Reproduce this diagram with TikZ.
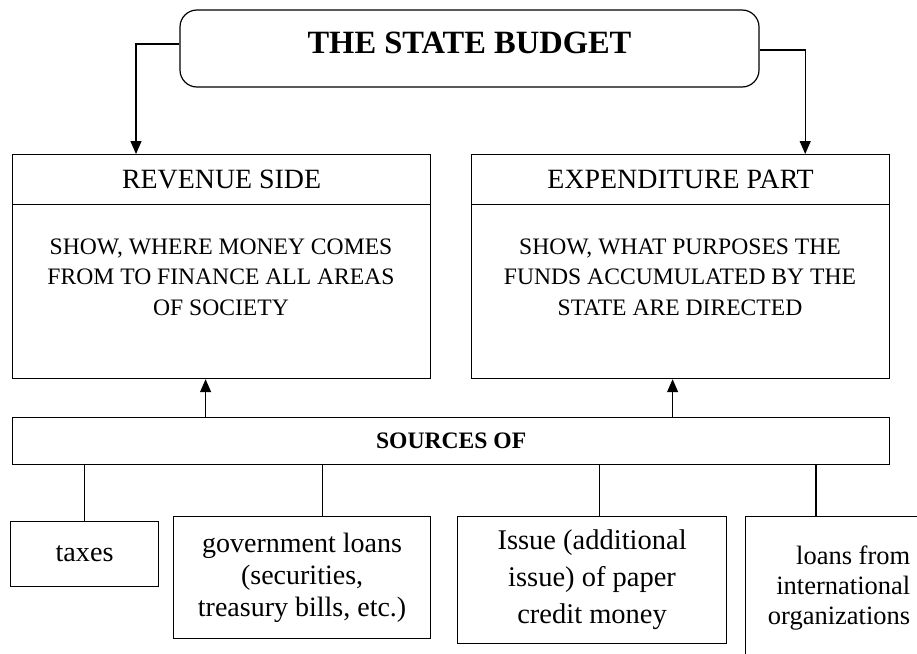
\documentclass[tikz,border=0pt]{standalone}
\usepackage{fontspec}
\setmainfont{Liberation Serif}
\usetikzlibrary{arrows.meta}
\begin{document}
\begin{tikzpicture}[x=1pt,y=-1pt,
  line width=1.2pt,
  box/.style={draw=black, line width=1.2pt, inner sep=0pt, anchor=north west, align=center},
  arr/.style={line width=1.2pt, -{Triangle[length=13pt,width=11pt]}},
  conn/.style={line width=1.2pt}]
\useasboundingbox (0,0) rectangle (917,653);
\clip (0,0) rectangle (917,653);
\fill[white] (0,0) rectangle (917,653);

% title
\node[draw=black, line width=1.2pt, rounded corners=17pt, inner sep=0pt,
      minimum width=579pt, minimum height=77pt, text depth=11.8pt,
      font=\fontsize{32.5}{36}\selectfont\bfseries] (title) at (469.5,48.5) {THE STATE BUDGET};

% revenue side
\node[box, minimum width=418pt, minimum height=50pt, font=\fontsize{27.9}{32}\selectfont] (revhead) at (12,154) {REVENUE SIDE};
\node[box, minimum width=418pt, minimum height=174pt] (revbody) at (12,204) {};
\node[inner sep=0pt, anchor=north, align=center, font=\fontsize{23.6}{30.5}\selectfont] (revtext) at (221,238)
  {SHOW, WHERE MONEY COMES\\FROM TO FINANCE ALL AREAS\\OF SOCIETY};

% expenditure part
\node[box, minimum width=418pt, minimum height=50pt, font=\fontsize{27.9}{32}\selectfont] (exphead) at (471,154) {EXPENDITURE PART};
\node[box, minimum width=418pt, minimum height=174pt] (expbody) at (471,204) {};
\node[inner sep=0pt, anchor=north, align=center, font=\fontsize{23.6}{30.5}\selectfont] (exptext) at (680,238)
  {SHOW, WHAT PURPOSES THE\\FUNDS ACCUMULATED BY THE\\STATE ARE DIRECTED};

% sources
\node[box, minimum width=877pt, minimum height=47pt, font=\fontsize{23.6}{28}\selectfont\bfseries] (sources) at (12,417) {SOURCES OF};

% bottom boxes
\node[box, minimum width=148pt, minimum height=65pt, font=\fontsize{28.2}{32}\selectfont] (taxes) at (10,521) {taxes};
\node[box, minimum width=257pt, minimum height=122pt, font=\fontsize{28}{32}\selectfont] (govt) at (173,516)
  {government loans\\(securities,\\treasury bills, etc.)};
\node[box, minimum width=269pt, minimum height=127pt, font=\fontsize{28.5}{37}\selectfont] (issue) at (457,516)
  {Issue (additional\\issue) of paper\\credit money};
\node[box, align=right, minimum width=187pt, minimum height=142pt, font=\fontsize{26.5}{30}\selectfont] (loans) at (745,516)
  {loans from\\international\\organizations};

% connectors from title
\draw[arr] ([yshift=4.5pt]title.west) -| ([xshift=124pt]revhead.north west);
\draw[arr] ([yshift=-1.5pt]title.east) -| ([xshift=-85pt]exphead.north east);

% arrows up from sources
\draw[arr] ([xshift=-16pt]revbody.south |- sources.north) -- ([xshift=-16pt]revbody.south);
\draw[arr] ([xshift=-8pt]expbody.south |- sources.north) -- ([xshift=-8pt]expbody.south);

% lines down to sources
\draw[conn] (taxes.north |- sources.south) -- (taxes.north);
\draw[conn] ([xshift=20.5pt]govt.north |- sources.south) -- ([xshift=20.5pt]govt.north);
\draw[conn] ([xshift=7.5pt]issue.north |- sources.south) -- ([xshift=7.5pt]issue.north);
\draw[conn] ([xshift=71pt]loans.north west |- sources.south) -- ([xshift=71pt]loans.north west);
\end{tikzpicture}
\end{document}
